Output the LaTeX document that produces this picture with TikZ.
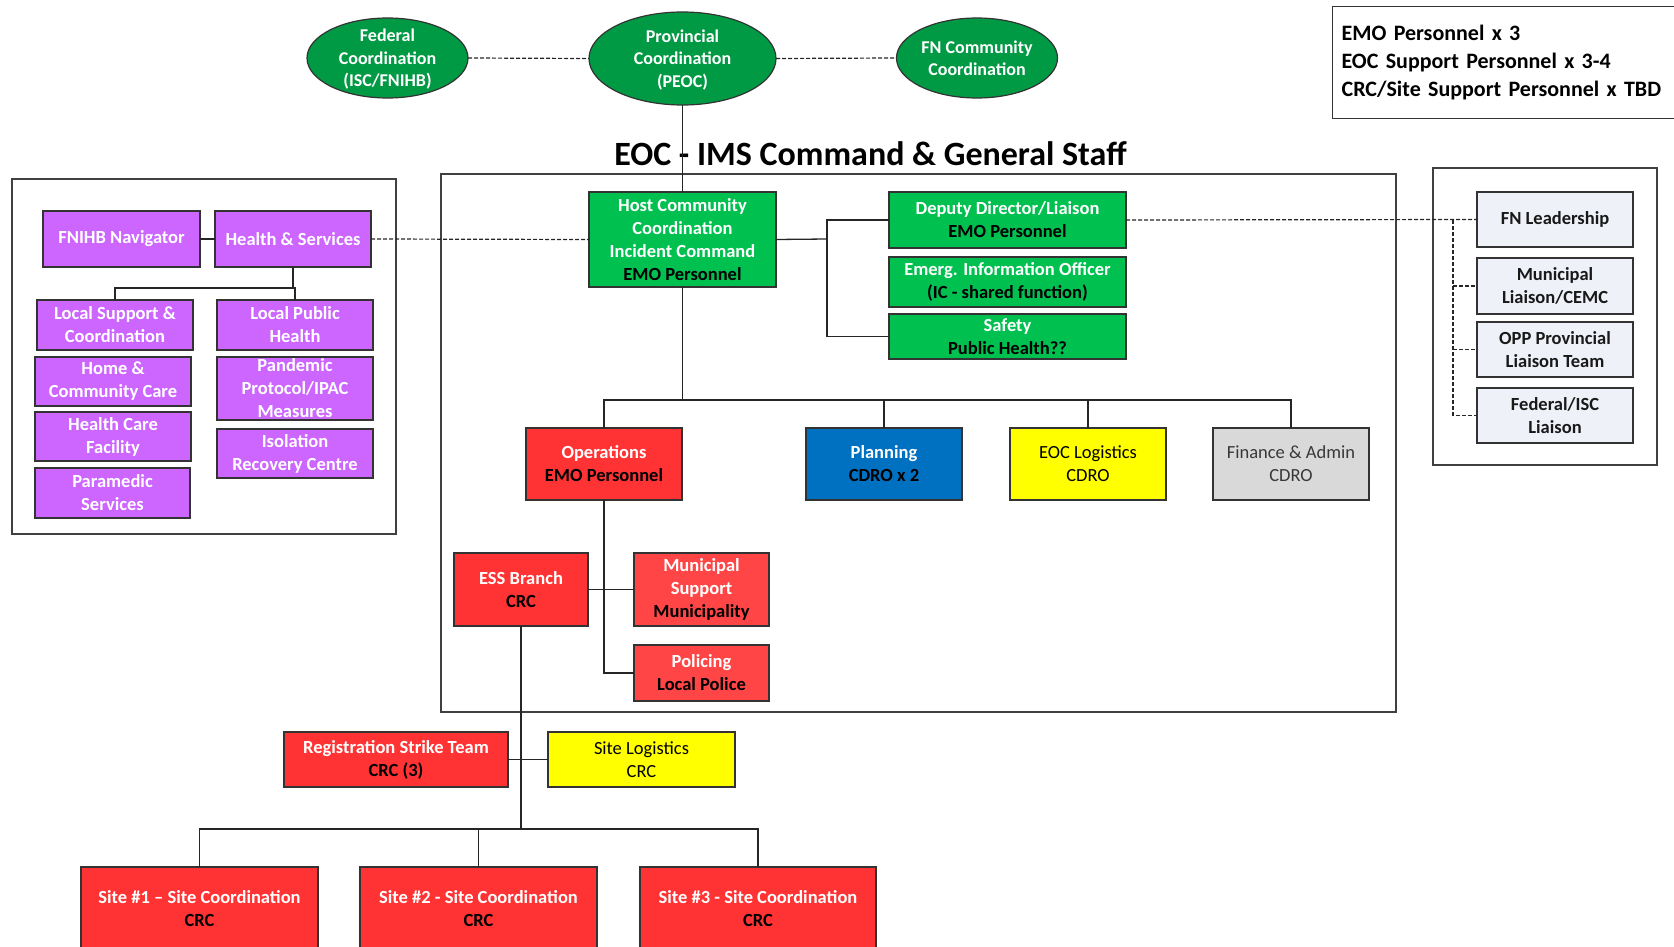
\documentclass[tikz,border=0pt]{standalone}
\usepackage{fontspec}
\setmainfont{Carlito}
\usetikzlibrary{shapes.geometric}
\definecolor{ellgreen}{HTML}{009A44}
\definecolor{boxgreen}{HTML}{00C050}
\definecolor{boxred}{HTML}{FF3333}
\definecolor{boxredb}{HTML}{FF4545}
\definecolor{boxpurple}{HTML}{CC66FF}
\definecolor{boxblue}{HTML}{0070C0}
\definecolor{boxyellow}{HTML}{FFFF00}
\definecolor{boxgray}{HTML}{D9D9D9}
\definecolor{liaison}{HTML}{EEF1F8}
\definecolor{framegray}{HTML}{404040}
\begin{document}
\begin{tikzpicture}[x=1pt,y=-1pt,
  bx/.style={draw=black!80, line width=1.2pt, inner sep=0pt, outer sep=0pt, align=center,
    font=\bfseries\fontsize{18.5}{23}\selectfont},
  grnbox/.style={bx, fill=boxgreen, text=white},
  redbox/.style={bx, fill=boxred, text=white},
  redboxb/.style={bx, fill=boxredb, text=white},
  purpbox/.style={bx, fill=boxpurple, text=white},
  bluebox/.style={bx, fill=boxblue, text=white},
  yelbox/.style={bx, fill=boxyellow, text=black, font=\fontsize{18.5}{23}\selectfont},
  graybox/.style={bx, fill=boxgray, text=black!78, font=\fontsize{18.5}{23}\selectfont},
  liaisbox/.style={bx, fill=liaison, text=black!90},
  ell/.style={ellipse, draw=black!80, line width=1.2pt, fill=ellgreen, text=white, inner sep=0pt,
    outer sep=0pt, font=\bfseries\fontsize{18}{22.5}\selectfont},
  frame/.style={draw=framegray, line width=1.5pt},
  ln/.style={draw=black!85, line width=1.3pt},
  dashln/.style={draw=black!85, line width=1.2pt, dash pattern=on 4pt off 2pt}
]
\useasboundingbox (0,0) rectangle (1674,947);
\clip (0,0) rectangle (1674,947);

% frames
\draw[frame] (12,179) rectangle (396,534);
\draw[frame] (441,174) rectangle (1396,712);
\draw[frame] (1433,168) rectangle (1657,465);

% legend
\node[draw=black!80, line width=1.2pt, anchor=north west, minimum width=350pt, minimum height=112pt,
  inner xsep=9pt, inner ysep=0pt, text width=332pt, align=left,
  font=\bfseries\fontsize{22}{28}\selectfont] (legend) at (1332,6)
  {EMO Personnel x 3\\EOC Support Personnel x 3-4\\CRC/Site Support Personnel x TBD};

% ellipses
\node[ell, minimum width=161pt, minimum height=80pt] (fed) at (387.5,58)
  {\smash{\raisebox{-6.2pt}{\begin{tabular}{@{}c@{}}Federal\\Coordination\\(ISC/FNIHB)\end{tabular}}}};
\node[ell, minimum width=187pt, minimum height=93pt] (prov) at (682.5,58.5)
  {\smash{\raisebox{-6.2pt}{\begin{tabular}{@{}c@{}}Provincial\\Coordination\\(PEOC)\end{tabular}}}};
\node[ell, minimum width=161pt, minimum height=80pt] (fnc) at (977,58)
  {\smash{\raisebox{-6.2pt}{\begin{tabular}{@{}c@{}}FN Community\\Coordination\end{tabular}}}};

% title
\node[anchor=base, inner sep=0pt, font=\bfseries\fontsize{34}{40}\selectfont] (title) at (870.5,165)
  {EOC - IMS Command \& General Staff};

% left (health) group
\node[purpbox, minimum width=157pt, minimum height=56pt] (fnihb) at (121.5,239) {FNIHB Navigator};
\node[purpbox, minimum width=156pt, minimum height=56pt] (hs) at (293,239) {Health \& Services};
\node[purpbox, minimum width=156pt, minimum height=50pt] (lsc) at (115,325) {Local Support \&\\Coordination};
\node[purpbox, minimum width=156pt, minimum height=50pt] (lph) at (295,325) {Local Public\\Health};
\node[purpbox, minimum width=156pt, minimum height=49pt] (hcc) at (113,381.5) {Home \&\\Community Care};
\node[purpbox, minimum width=156pt, minimum height=63pt] (pan) at (295,388.5) {Pandemic\\Protocol/IPAC\\Measures};
\node[purpbox, minimum width=156pt, minimum height=49pt] (hcf) at (113,436.5) {Health Care\\Facility};
\node[purpbox, minimum width=156pt, minimum height=49pt] (iso) at (295,453.5) {Isolation\\Recovery Centre};
\node[purpbox, minimum width=155pt, minimum height=50pt] (par) at (112.5,493) {Paramedic\\Services};

% command group
\node[grnbox, minimum width=187pt, minimum height=95pt] (host) at (682.5,239.5)
  {Host Community\\Coordination\\Incident Command\\\textcolor{black}{EMO Personnel}};
\node[grnbox, minimum width=237pt, minimum height=56pt] (dep) at (1007.5,220)
  {Deputy Director/Liaison\\\textcolor{black}{EMO Personnel}};
\node[grnbox, minimum width=237pt, minimum height=50pt] (emerg) at (1007.5,282)
  {Emerg. Information Officer\\\textcolor{black}{(IC - shared function)}};
\node[grnbox, minimum width=237pt, minimum height=45pt] (safety) at (1007.5,336.5)
  {Safety\\\textcolor{black}{Public Health??}};

% liaison group
\node[liaisbox, minimum width=156pt, minimum height=55pt] (fnl) at (1555,219.5) {FN Leadership};
\node[liaisbox, minimum width=156pt, minimum height=56pt] (muni) at (1555,286) {Municipal\\Liaison/CEMC};
\node[liaisbox, minimum width=156pt, minimum height=55pt] (opp) at (1555,349.5) {OPP Provincial\\Liaison Team};
\node[liaisbox, minimum width=156pt, minimum height=55pt] (fedisc) at (1555,415.5) {Federal/ISC\\Liaison};

% general staff
\node[redbox, minimum width=156pt, minimum height=72pt] (ops) at (604,464)
  {Operations\\\textcolor{black}{EMO Personnel}};
\node[bluebox, minimum width=156pt, minimum height=72pt] (plan) at (884,464)
  {Planning\\\textcolor{black}{CDRO x 2}};
\node[yelbox, minimum width=156pt, minimum height=72pt] (log) at (1088,464)
  {EOC Logistics\\CDRO};
\node[graybox, minimum width=156pt, minimum height=72pt] (fin) at (1291,464)
  {Finance \& Admin\\CDRO};

% operations branch
\node[redbox, minimum width=134pt, minimum height=73pt] (ess) at (521,589.5)
  {ESS Branch\\\textcolor{black}{CRC}};
\node[redboxb, minimum width=135pt, minimum height=73pt] (msup) at (701.5,589.5)
  {Municipal\\Support\\\textcolor{black}{Municipality}};
\node[redboxb, minimum width=135pt, minimum height=56pt] (pol) at (701.5,673)
  {Policing\\\textcolor{black}{Local Police}};
\node[redbox, minimum width=224pt, minimum height=55pt] (reg) at (396,759.5)
  {Registration Strike Team\\\textcolor{black}{CRC (3)}};
\node[yelbox, minimum width=187pt, minimum height=55pt] (slog) at (641.5,759.5)
  {Site Logistics\\CRC};
\node[redbox, minimum width=237pt, minimum height=84pt] (site1) at (199.5,909)
  {Site \#1 -- Site Coordination\\\textcolor{black}{CRC}};
\node[redbox, minimum width=237pt, minimum height=84pt] (site2) at (478.5,909)
  {Site \#2 - Site Coordination\\\textcolor{black}{CRC}};
\node[redbox, minimum width=236pt, minimum height=84pt] (site3) at (758,909)
  {Site \#3 - Site Coordination\\\textcolor{black}{CRC}};

% junction coordinates
\coordinate (hj) at (293,288);
\coordinate (gj) at (827,239);
\coordinate (lj) at (1453,220);
\coordinate (sj) at (682.5,400);
\coordinate (cj) at (521,829);

% connectors
\draw[dashln] (fed.east) -- (prov.west);
\draw[dashln] (prov.east) -- (fnc.west);
\draw[ln] (prov.south) -- (host.north);
\draw[dashln] (hs.east) -- (host.west);
\draw[ln] (fnihb.east) -- (hs.west);
\draw[ln] (hs.south) -- (hj) -| (lsc.north);
\draw[ln] (hj) -| (lph.north);
\draw[ln] (host.east) -- (gj);
\draw[ln] (dep.west) -- (gj |- dep.west) -- (gj |- safety.west) -- (safety.west);
\draw[dashln] (dep.east) -- (fnl.west);
\draw[dashln] (lj) |- (fedisc.west);
\draw[dashln] (lj |- muni.west) -- (muni.west);
\draw[dashln] (lj |- opp.west) -- (opp.west);
\draw[ln] (host.south) -- (sj);
\draw[ln] (ops.north) -- (ops.north |- sj) -- (fin.north |- sj) -- (fin.north);
\draw[ln] (plan.north) -- (plan.north |- sj);
\draw[ln] (log.north) -- (log.north |- sj);
\draw[ln] (ops.south) -- (ops.south |- pol.west) -- (pol.west);
\draw[ln] (ess.east) -- (msup.west);
\draw[ln] (ess.south) -- (cj);
\draw[ln] (reg.east) -- (slog.west);
\draw[ln] (site1.north) -- (site1.north |- cj) -- (site3.north |- cj) -- (site3.north);
\draw[ln] (site2.north) -- (site2.north |- cj);
\end{tikzpicture}
\end{document}
